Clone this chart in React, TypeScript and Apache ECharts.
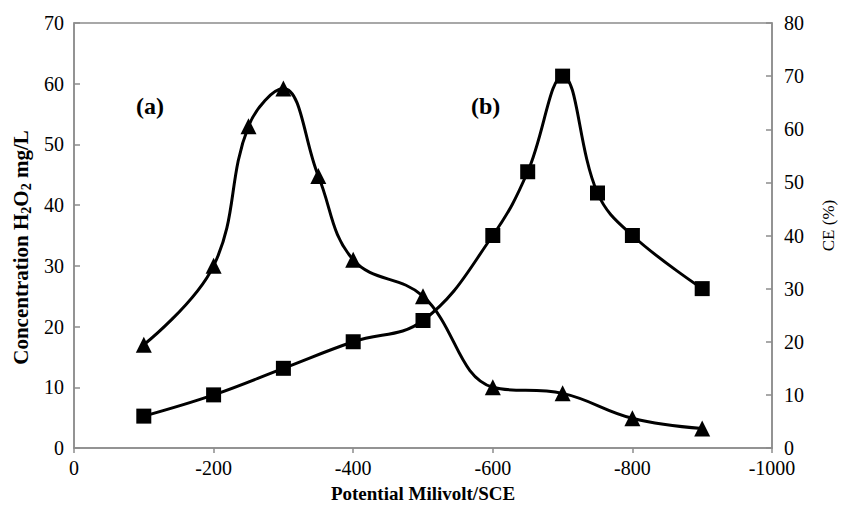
import React, { useEffect, useRef } from "react";
import * as echarts from "echarts";

const potentialA = [-100, -200, -250, -300, -350, -400, -500, -600, -700, -800, -900];
const concentrationA = [17, 30, 53, 59.2, 44.8, 31, 25, 10, 9, 4.9, 3.2];

const potentialB = [-100, -200, -300, -400, -500, -600, -650, -700, -750, -800, -900];
const ceB = [6, 10, 15, 20, 24, 40, 52, 70, 48, 40, 30];

const FONT = "'Liberation Serif', 'Times New Roman', serif";
const AXIS_COLOR = "#8c8c8c";

export default function App() {
  const ref = useRef<HTMLDivElement>(null);
  useEffect(() => {
    if (!ref.current) return;
    const chart = echarts.init(ref.current, null, { renderer: "svg" });
    chart.setOption({
      animation: false,
      backgroundColor: "#ffffff",
      textStyle: { fontFamily: FONT },
      grid: { left: 74, right: 65, top: 23, bottom: 60, containLabel: false, show: true, borderColor: AXIS_COLOR, borderWidth: 1.5 },
      xAxis: {
        type: "value",
        min: -1000,
        max: 0,
        interval: 200,
        inverse: true,
        name: "Potential Milivolt/SCE",
        nameLocation: "middle",
        nameGap: 36,
        nameTextStyle: { fontFamily: FONT, fontWeight: "bold", fontSize: 19, color: "#000" },
        axisLine: { show: true, onZero: false, lineStyle: { color: AXIS_COLOR, width: 1.5 } },
        axisTick: { show: true, inside: false, length: 5, lineStyle: { color: AXIS_COLOR, width: 1.5 } },
        axisLabel: { fontFamily: FONT, fontSize: 20, color: "#000", margin: 10, formatter: (v: number) => String(v) },
        splitLine: { show: false },
      },
      yAxis: [
        {
          type: "value",
          min: 0,
          max: 70,
          interval: 10,
          position: "left",
          name: "{a|Concentration H}{s|2}{a|O}{s|2}{a| mg/L}",
          nameLocation: "middle",
          nameGap: 37,
          nameTextStyle: {
            fontFamily: FONT,
            color: "#000",
            padding: [0, 24, 0, 0],
            rich: {
              a: { fontFamily: FONT, fontWeight: "bold", fontSize: 21, color: "#000", lineHeight: 24 },
              s: { fontFamily: FONT, fontWeight: "bold", fontSize: 14, color: "#000", lineHeight: 24, verticalAlign: "bottom", padding: [7, 0, 0, 0] },
            },
          },
          axisLine: { show: true, lineStyle: { color: AXIS_COLOR, width: 1.5 } },
          axisTick: { show: true, inside: true, length: 6, lineStyle: { color: AXIS_COLOR, width: 1.5 } },
          axisLabel: { fontFamily: FONT, fontSize: 20, color: "#000", margin: 10 },
          splitLine: { show: false },
        },
        {
          type: "value",
          min: 0,
          max: 80,
          interval: 10,
          position: "right",
          name: "CE (%)",
          nameLocation: "middle",
          nameGap: 48,
          nameTextStyle: { fontFamily: FONT, fontSize: 17, color: "#000", padding: [0, 0, 0, 20] },
          axisLine: { show: true, lineStyle: { color: AXIS_COLOR, width: 1.5 } },
          axisTick: { show: true, inside: true, length: 6, lineStyle: { color: AXIS_COLOR, width: 1.5 } },
          axisLabel: { fontFamily: FONT, fontSize: 20, color: "#000", margin: 12 },
          splitLine: { show: false },
        },
      ],
      graphic: [
        { type: "text", left: 136, top: 94, style: { text: "(a)", fontFamily: FONT, fontWeight: "bold", fontSize: 24, fill: "#000" } },
        { type: "text", left: 471, top: 94, style: { text: "(b)", fontFamily: FONT, fontWeight: "bold", fontSize: 24, fill: "#000" } },
      ],
      series: [
        {
          type: "line",
          name: "(a)",
          yAxisIndex: 0,
          data: potentialA.map((x, i) => [x, concentrationA[i]]),
          smooth: 0.4,
          symbol: "triangle",
          symbolSize: 16,
          lineStyle: { color: "#000", width: 3 },
          itemStyle: { color: "#000" },
        },
        {
          type: "line",
          name: "(b)",
          yAxisIndex: 1,
          data: potentialB.map((x, i) => [x, ceB[i]]),
          smooth: 0.4,
          symbol: "rect",
          symbolSize: 15,
          lineStyle: { color: "#000", width: 3 },
          itemStyle: { color: "#000" },
        },
      ],
    });
    return () => chart.dispose();
  }, []);
  return <div ref={ref} style={{ width: 845, height: 508, position: "absolute", left: 0, top: 0 }} />;
}
